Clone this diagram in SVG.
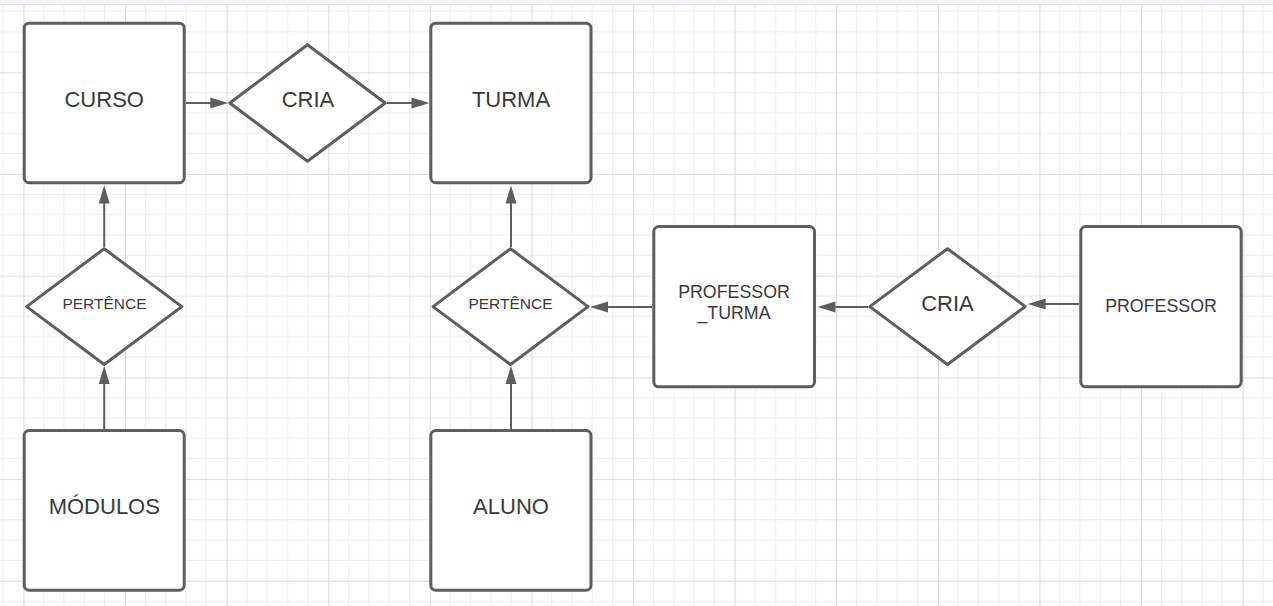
<svg xmlns="http://www.w3.org/2000/svg" width="1273" height="606" viewBox="0 0 1273 606">
  <style>
    .box { fill: #ffffff; stroke: #5e5e5e; stroke-width: 3; }
    .dia { fill: #ffffff; stroke: #5e5e5e; stroke-width: 3; stroke-linejoin: round; }
    .lbl { font-family: "Liberation Sans", Arial, sans-serif; fill: #3a3a3a; text-anchor: middle; }
    .big { font-size: 22px; }
    .mid { font-size: 17.8px; }
    .sml { font-size: 15.5px; }
    .con { fill: none; stroke: #5e5e5e; stroke-width: 2; marker-end: url(#arr); }
  </style>
  <defs>
    <pattern id="grid" patternUnits="userSpaceOnUse" x="23.4" y="72.3" width="101.6" height="101.7">
      <g stroke="#ececec" stroke-width="1">
        <line x1="20.32" y1="0" x2="20.32" y2="101.7"/>
        <line x1="40.64" y1="0" x2="40.64" y2="101.7"/>
        <line x1="60.96" y1="0" x2="60.96" y2="101.7"/>
        <line x1="81.28" y1="0" x2="81.28" y2="101.7"/>
        <line x1="0" y1="20.34" x2="101.6" y2="20.34"/>
        <line x1="0" y1="40.68" x2="101.6" y2="40.68"/>
        <line x1="0" y1="61.02" x2="101.6" y2="61.02"/>
        <line x1="0" y1="81.36" x2="101.6" y2="81.36"/>
      </g>
      <g stroke="#dcdcdc" stroke-width="1.2">
        <line x1="0.5" y1="0" x2="0.5" y2="101.7"/>
        <line x1="0" y1="0.5" x2="101.6" y2="0.5"/>
      </g>
    </pattern>
    <marker id="arr" markerUnits="userSpaceOnUse" markerWidth="18" markerHeight="11" refX="14" refY="5.5" orient="auto" overflow="visible">
      <path d="M0,0 L18,5.5 L0,11 z" fill="#5e5e5e"/>
    </marker>
  </defs>

  <rect x="0" y="0" width="1273" height="606" fill="#ffffff"/>
  <rect x="0" y="0" width="1273" height="606" fill="url(#grid)"/>
  <rect x="0" y="0" width="1273" height="4" fill="#f3f5f9"/>
  <line x1="0" y1="4.5" x2="1273" y2="4.5" stroke="#e0e4ec" stroke-width="1"/>

  <g id="connectors">
    <path class="con" d="M186,103 L224.3,103"/>
    <path class="con" d="M387,103 L425.5,103"/>
    <path class="con" d="M104.2,247 L104.2,189.5"/>
    <path class="con" d="M104.2,429 L104.2,370"/>
    <path class="con" d="M511,247 L511,189.5"/>
    <path class="con" d="M511,429 L511,370"/>
    <path class="con" d="M652,307 L594,307"/>
    <path class="con" d="M868,307 L821.5,307"/>
    <path class="con" d="M1079,304 L1031.7,304"/>
  </g>

  <g id="curso">
    <rect class="box" x="24.2" y="23.2" width="160" height="159.5" rx="5"/>
    <text class="lbl big" x="104.2" y="107.3">CURSO</text>
  </g>
  <g id="cria1">
    <polygon class="dia" points="307.5,44.8 385.2,103 307.5,161.2 229.8,103"/>
    <text class="lbl big" x="308" y="107.3">CRIA</text>
  </g>
  <g id="turma">
    <rect class="box" x="430.8" y="23.2" width="160.2" height="159.5" rx="5"/>
    <text class="lbl big" x="511" y="107.3">TURMA</text>
  </g>
  <g id="pertence1">
    <polygon class="dia" points="104.2,248.7 181.8,306.6 104.2,364.5 26.6,306.6"/>
    <text class="lbl sml" x="104.5" y="309.3">PERTÊNCE</text>
  </g>
  <g id="pertence2">
    <polygon class="dia" points="510.5,248.7 588,306.6 510.5,364.5 433,306.6"/>
    <text class="lbl sml" x="510.5" y="309.3">PERTÊNCE</text>
  </g>
  <g id="professor_turma">
    <rect class="box" x="653.8" y="226.5" width="160.7" height="160.3" rx="5"/>
    <text class="lbl mid" x="734" y="297.7">PROFESSOR</text>
    <text class="lbl mid" x="734" y="319.3">_TURMA</text>
  </g>
  <g id="cria2">
    <polygon class="dia" points="947.5,248.7 1025.2,306.6 947.5,364.5 869.8,306.6"/>
    <text class="lbl big" x="947.5" y="311">CRIA</text>
  </g>
  <g id="professor">
    <rect class="box" x="1080.8" y="226.5" width="160.4" height="160.3" rx="5"/>
    <text class="lbl mid" x="1161" y="312.3">PROFESSOR</text>
  </g>
  <g id="modulos">
    <rect class="box" x="24.2" y="430.5" width="160" height="159.7" rx="5"/>
    <text class="lbl big" x="104.3" y="514.3">MÓDULOS</text>
  </g>
  <g id="aluno">
    <rect class="box" x="430.8" y="430.5" width="160.2" height="159.7" rx="5"/>
    <text class="lbl big" x="511" y="514.3">ALUNO</text>
  </g>
</svg>
